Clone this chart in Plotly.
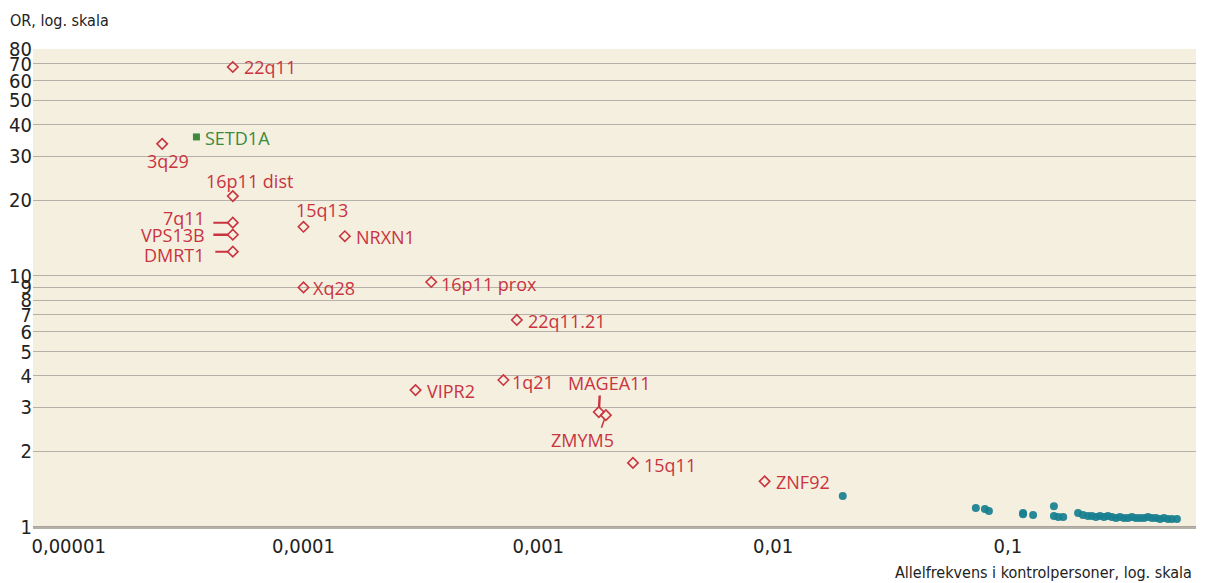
import math
import plotly.graph_objects as go

# ---------------- data ----------------
cnv_names = ["22q11", "3q29", "16p11 dist", "7q11", "VPS13B", "DMRT1", "15q13",
             "NRXN1", "Xq28", "16p11 prox", "22q11.21", "VIPR2", "1q21",
             "MAGEA11", "ZMYM5", "15q11", "ZNF92"]
cnv_freq = [0.00005, 0.000025, 0.00005, 0.00005, 0.00005, 0.00005, 0.0001,
            0.00015, 0.0001, 0.00035, 0.00081, 0.0003, 0.00071,
            0.00181, 0.00194, 0.00253, 0.0092]
cnv_or = [68, 33.6, 20.8, 16.3, 14.6, 12.5, 15.7,
          14.4, 9.0, 9.46, 6.68, 3.51, 3.85,
          2.87, 2.79, 1.80, 1.52]

setd1a_name = ["SETD1A"]
setd1a_freq = [0.000035]
setd1a_or = [35.8]

common_freq = [0.0198, 0.073, 0.0798, 0.083, 0.116, 0.116, 0.128, 0.157, 0.157,
               0.164, 0.172,
               0.199, 0.2087, 0.2192, 0.2279, 0.2370, 0.2465, 0.2564, 0.2666,
               0.2772, 0.2884, 0.2999, 0.3119, 0.3244, 0.3373, 0.3508, 0.3648,
               0.3795, 0.3947, 0.4105, 0.4269, 0.4440, 0.4617, 0.4802, 0.4994,
               0.5245]
common_or = [1.33, 1.19, 1.18, 1.158, 1.137, 1.125, 1.116, 1.21, 1.106,
             1.096, 1.096,
             1.137, 1.116, 1.106, 1.106, 1.096, 1.106, 1.096, 1.106,
             1.096, 1.086, 1.096, 1.086, 1.086, 1.096, 1.086, 1.086,
             1.086, 1.096, 1.086, 1.086, 1.076, 1.086, 1.076, 1.076,
             1.076]

x_tickvals = [0.00001, 0.0001, 0.001, 0.01, 0.1]
x_ticktext = ["0,00001", "0,0001", "0,001", "0,01", "0,1"]
y_tickvals = [1, 2, 3, 4, 5, 6, 7, 8, 9, 10, 20, 30, 40, 50, 60, 70, 80]
y_ticktext = [str(v) for v in y_tickvals]

# ---------------- styles ----------------
RED = "#c9343f"
GREEN = "#3c8a3e"
TEAL = "#177f8f"
BG = "#f5efe0"
GRID = "#b5b1a9"
INK = "#222222"
LABEL_FONT = "Open Sans"
AXIS_FONT = "Liberation Sans Narrow, DejaVu Sans Condensed, sans-serif"

# label placement: name -> (xanchor, xshift, yshift)
label_pos = {
    "22q11": ("left", 9, 0),
    "3q29": ("center", 6, -17),
    "16p11 dist": ("center", 17, 15),
    "7q11": ("right", -26, 5),
    "VPS13B": ("right", -26, 0),
    "DMRT1": ("right", -26, -3),
    "15q13": ("center", 18, 17),
    "NRXN1": ("left", 9, -1),
    "Xq28": ("left", 7, -1),
    "16p11 prox": ("left", 8, -2),
    "22q11.21": ("left", 9, -1),
    "VIPR2": ("left", 9, -1),
    "1q21": ("left", 7, -2),
    "MAGEA11": ("center", 11, 29),
    "ZMYM5": ("center", -23, -25),
    "15q11": ("left", 9, -2),
    "ZNF92": ("left", 9, -1),
}
# pointer lines: name -> (ax, ay, width)
pointers = {
    "7q11": (-21, 0, 2),
    "VPS13B": (-21, 0, 2.6),
    "DMRT1": (-19, 0, 2),
    "MAGEA11": (1, -18, 2.4),
    "ZMYM5": (-5, 14, 1.5),
}

fig = go.Figure()

fig.add_trace(go.Scatter(
    x=common_freq, y=common_or, mode="markers",
    marker=dict(symbol="circle", size=8, color=TEAL, opacity=0.92),
    hoverinfo="x+y", showlegend=False))

fig.add_trace(go.Scatter(
    x=cnv_freq, y=cnv_or, mode="markers", text=cnv_names,
    marker=dict(symbol="diamond-open", size=8, color=RED, line=dict(width=1.6, color=RED)),
    hoverinfo="text+x+y", showlegend=False))

fig.add_trace(go.Scatter(
    x=setd1a_freq, y=setd1a_or, mode="markers", text=setd1a_name,
    marker=dict(symbol="square", size=7, color=GREEN),
    hoverinfo="text+x+y", showlegend=False))

annotations = []
for name, fx, fy in zip(cnv_names, cnv_freq, cnv_or):
    xa, xs, ys = label_pos[name]
    annotations.append(dict(
        x=math.log10(fx), y=math.log10(fy), xref="x", yref="y",
        text=name, showarrow=False, xanchor=xa, yanchor="middle",
        xshift=xs, yshift=ys, font=dict(family=LABEL_FONT, size=18, color=RED)))
    if name in pointers:
        ax, ay, w = pointers[name]
        annotations.append(dict(
            x=math.log10(fx), y=math.log10(fy), xref="x", yref="y", text="",
            showarrow=True, arrowhead=0, arrowwidth=w, arrowcolor=RED,
            ax=ax, ay=ay, standoff=4))

for name, fx, fy in zip(setd1a_name, setd1a_freq, setd1a_or):
    annotations.append(dict(
        x=math.log10(fx), y=math.log10(fy), xref="x", yref="y", text=name,
        showarrow=False, xanchor="left", yanchor="middle", xshift=7, yshift=-1,
        font=dict(family=LABEL_FONT, size=18, color=GREEN)))

annotations.append(dict(
    x=1, y=0, xref="paper", yref="paper", xanchor="right", yanchor="middle",
    xshift=-2, yshift=-45, showarrow=False,
    text="Allelfrekvens i kontrolpersoner, log. skala",
    font=dict(family=AXIS_FONT, size=16, color=INK)))

# page has an 8px body margin, so the figure is 8px smaller than the window
fig.update_layout(
    width=1200, height=575,
    margin=dict(l=25, r=12, t=41, b=56),
    paper_bgcolor="white", plot_bgcolor=BG,
    title=dict(text="OR, log. skala", x=2 / 1200, xanchor="left",
               y=1 - 12 / 575, yanchor="middle", xref="container", yref="container",
               font=dict(family=AXIS_FONT, size=16, color=INK)),
    annotations=annotations,
    shapes=[dict(type="line", xref="paper", x0=0, x1=1, yref="y",
                 y0=math.log10(y_tickvals[9]), y1=math.log10(y_tickvals[9]),
                 line=dict(color="#a9a59d", width=2.2), layer="below")],
    showlegend=False,
)

fig.update_xaxes(
    type="log", range=[-5.152, -0.199], automargin=False,
    tickvals=x_tickvals, ticktext=x_ticktext,
    showgrid=False, zeroline=False, ticks="",
    showline=True, linecolor=GRID, linewidth=1.5,
    tickfont=dict(family=AXIS_FONT, size=20, color=INK),
)
fig.update_yaxes(
    type="log", range=[0, math.log10(80) + 0.001], automargin=False,
    tickvals=y_tickvals, ticktext=y_ticktext,
    showgrid=True, gridcolor=GRID, gridwidth=1.3, zeroline=False, ticks="",
    showline=False,
    tickfont=dict(family=AXIS_FONT, size=20, color=INK),
)

fig.write_html("out.html")
